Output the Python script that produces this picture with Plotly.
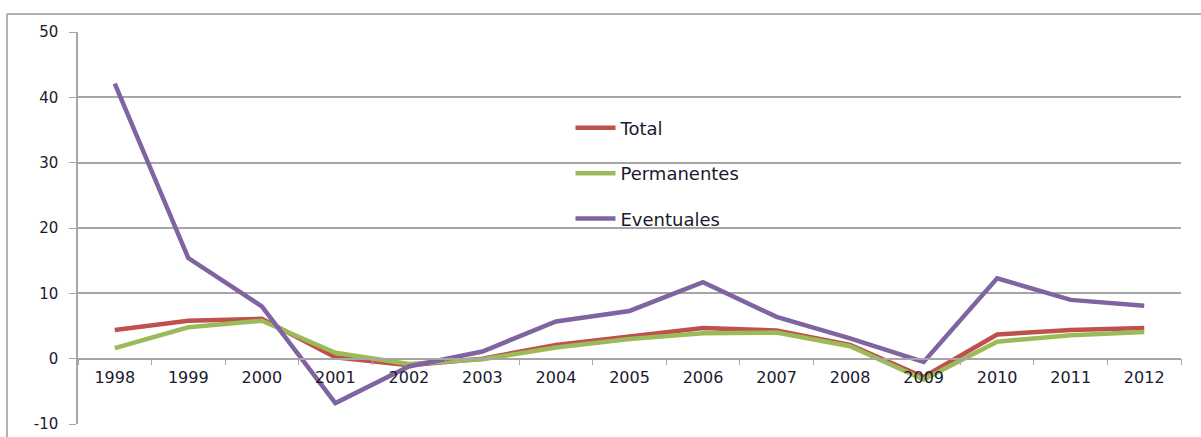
import plotly.graph_objects as go

years = ["1998", "1999", "2000", "2001", "2002", "2003", "2004", "2005",
         "2006", "2007", "2008", "2009", "2010", "2011", "2012"]
total = [4.4, 5.8, 6.1, 0.2, -1.0, 0.0, 2.1, 3.4, 4.7, 4.3, 2.1, -2.8, 3.7, 4.4, 4.7]
permanentes = [1.6, 4.8, 5.8, 0.9, -0.8, -0.1, 1.7, 3.0, 3.9, 4.0, 1.9, -3.2, 2.6, 3.6, 4.1]
eventuales = [42.1, 15.4, 8.0, -6.8, -1.2, 1.1, 5.7, 7.3, 11.7, 6.4, 3.1, -0.5, 12.3, 9.0, 8.1]
y_ticks = [-10, 0, 10, 20, 30, 40, 50]
y_labels = ["-10", "0", "10", "20", "30", "40", "50"]

series = [("Total", total, "#C0504D"),
          ("Permanentes", permanentes, "#9BBB59"),
          ("Eventuales", eventuales, "#8064A2")]

fig = go.Figure()
for name, vals, col in series:
    fig.add_trace(go.Scatter(x=years, y=vals, name=name, mode="lines",
                             legendgroup=name,
                             line=dict(color=col, width=4.5)))

grid = "#A6A6A6"
fig.update_layout(
    width=1201, height=437,
    margin=dict(l=78, r=20, t=32, b=13),
    paper_bgcolor="white", plot_bgcolor="white",
    font=dict(family="DejaVu Sans", color="#1a1a2e"),
    showlegend=True,
    legend=dict(x=0.4465, y=0.802, xanchor="left", yanchor="top",
                bgcolor="rgba(0,0,0,0)", font=dict(size=18, color="#1a1a2e"),
                tracegroupgap=19, itemwidth=40),
    xaxis=dict(type="category", anchor="free", position=1/6, automargin=False,
               range=[-0.5, 14.5],
               showgrid=False, showline=True, linecolor=grid, linewidth=1.5,
               ticks="outside", tickson="boundaries", ticklen=6, tickcolor=grid,
               tickfont=dict(size=16), ticklabelstandoff=4, zeroline=False),
    yaxis=dict(range=[-10, 50], tickvals=y_ticks, ticktext=y_labels,
               showgrid=True, gridcolor=grid, gridwidth=1.5,
               automargin=False,
               showline=True, linecolor=grid, linewidth=1.5, zeroline=False,
               ticks="outside", ticklen=7, tickcolor=grid,
               tickfont=dict(size=15), ticklabelstandoff=8),
    shapes=[
        dict(type="line", xref="paper", yref="paper", x0=-0.0644, x1=1.08,
             y0=1.0459, y1=1.0459, line=dict(color="#B0B0B0", width=2)),
        dict(type="line", xref="paper", yref="paper", x0=-0.0644, x1=-0.0644,
             y0=1.0459, y1=-0.05, line=dict(color="#B0B0B0", width=2)),
    ],
)

fig.write_html("out.html", config={"displayModeBar": False},
               post_script="document.body.style.margin='0';document.body.style.overflow='hidden';")
